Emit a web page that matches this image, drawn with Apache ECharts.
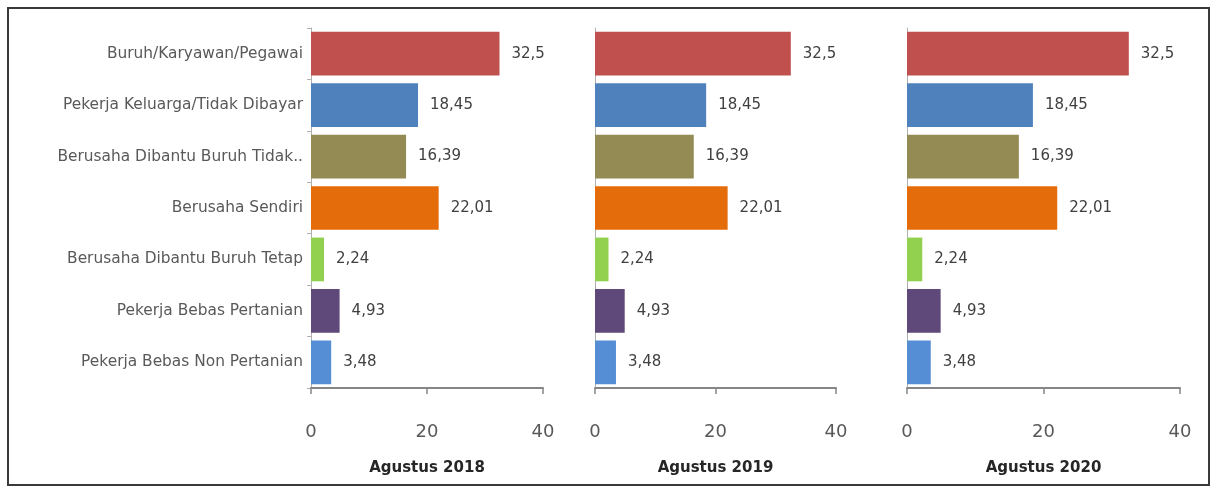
<!DOCTYPE html>
<html>
<head>
<meta charset="utf-8">
<script src="https://cdn.jsdelivr.net/npm/echarts@6/dist/echarts.min.js"></script>
<style>html,body{margin:0;padding:0;background:#fff;}#c{width:1214px;height:489px;}</style>
</head>
<body>
<div id="c"></div>
<script>
const categories = [
  "Buruh/Karyawan/Pegawai",
  "Pekerja Keluarga/Tidak Dibayar",
  "Berusaha Dibantu Buruh Tidak Tetap",
  "Berusaha Sendiri",
  "Berusaha Dibantu Buruh Tetap",
  "Pekerja Bebas Pertanian",
  "Pekerja Bebas Non Pertanian"
];
const periods = ["Agustus 2018", "Agustus 2019", "Agustus 2020"];
const values2018 = [32.5, 18.45, 16.39, 22.01, 2.24, 4.93, 3.48];
const values2019 = [32.5, 18.45, 16.39, 22.01, 2.24, 4.93, 3.48];
const values2020 = [32.5, 18.45, 16.39, 22.01, 2.24, 4.93, 3.48];
const barColors = ["#C0504D", "#4F81BD", "#948A54", "#E46C0A", "#92D050", "#5F497A", "#558ED5"];
const xTicks = [0, 20, 40];

const seriesValues = [values2018, values2019, values2020];
const grids = [
  {left: 311, width: 232, top: 28, height: 360},
  {left: 595, width: 241, top: 28, height: 360},
  {left: 907, width: 273, top: 28, height: 360}
];
const FONT = 'DejaVu Sans';

const chart = echarts.init(document.getElementById('c'));
const option = {
  backgroundColor: '#fff',
  animation: false,
  graphic: [{
    type: 'rect', shape: {x: 8, y: 8, width: 1201, height: 477},
    style: {fill: 'none', stroke: '#3a3a3a', lineWidth: 2}
  }],
  grid: grids,
  xAxis: grids.map((g, i) => ({
    gridIndex: i, type: 'value', min: xTicks[0], max: xTicks[xTicks.length - 1], interval: 20,
    name: periods[i], nameLocation: 'middle', nameGap: 73,
    nameTextStyle: {fontFamily: FONT, fontWeight: 'bold', fontSize: 15, color: '#262626'},
    axisLine: {show: true, lineStyle: {color: '#868686', width: 2}},
    axisTick: {show: true, length: 6, lineStyle: {color: '#868686', width: 1.5}},
    axisLabel: {fontFamily: FONT, fontSize: 18, color: '#595959', margin: 35},
    splitLine: {show: false}
  })),
  yAxis: grids.map((g, i) => ({
    gridIndex: i, type: 'category', data: categories, inverse: true,
    axisLine: {show: true, lineStyle: {color: '#b0b0b0', width: 1}},
    axisTick: {show: i === 0, length: 4, lineStyle: {color: '#b0b0b0'}},
    axisLabel: {
      show: i === 0, fontFamily: FONT, fontSize: 15.4, color: '#595959', margin: 8,
      width: 249, overflow: 'truncate', ellipsis: '..'
    }
  })),
  series: seriesValues.map((vals, i) => ({
    type: 'bar', xAxisIndex: i, yAxisIndex: i,
    barCategoryGap: '15%',
    data: vals.map((v, k) => ({value: v, itemStyle: {color: barColors[k]}})),
    label: {
      show: true, position: 'right', distance: 12,
      fontFamily: FONT, fontSize: 15, color: '#404040',
      formatter: p => String(p.value).replace('.', ',')
    }
  }))
};
chart.setOption(option);
</script>
</body>
</html>
